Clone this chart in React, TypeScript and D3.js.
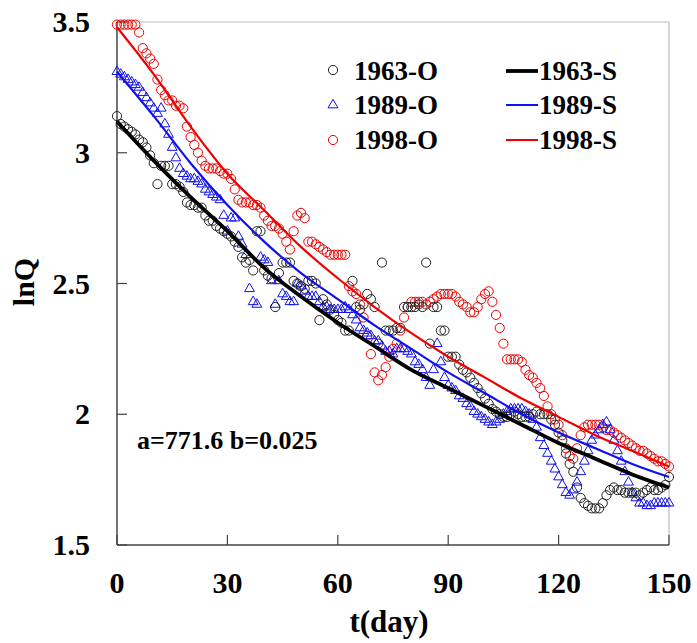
import React from 'react';
import { scaleLinear, line, curveMonotoneX, symbol, symbolTriangle } from 'd3';

const W = 697;
const H = 643;

// observed lnQ, one value per day, t = 0..150
const obs1963 = [
  3.14, 3.11, 3.10, 3.09, 3.08, 3.07, 3.05, 3.04, 3.02, 2.99,
  2.96, 2.88, 2.95, 2.95, 2.95, 2.88, 2.88, 2.87, 2.85, 2.81,
  2.80, 2.80, 2.79, 2.79, 2.76, 2.74, 2.74, 2.72, 2.71, 2.70,
  2.69, 2.68, 2.66, 2.64, 2.60, 2.58, 2.59, 2.55, 2.70, 2.70,
  2.55, 2.53, 2.52, 2.41, 2.54, 2.58, 2.58, 2.58, 2.51, 2.50,
  2.49, 2.48, 2.51, 2.51, 2.50, 2.36, 2.44, 2.42, 2.40, 2.38,
  2.36, 2.35, 2.32, 2.32, 2.51, 2.41, 2.40, 2.42, 2.46, 2.44,
  2.41, 2.27, 2.58, 2.32, 2.32, 2.32, 2.33, 2.33, 2.41, 2.41,
  2.41, 2.41, 2.42, 2.41, 2.58, 2.27, 2.41, 2.41, 2.32, 2.32,
  2.22, 2.22, 2.22, 2.19, 2.17, 2.16, 2.14, 2.12, 2.10, 2.08,
  2.06, 2.04, 2.02, 2.01, 2.00, 1.99, 1.99, 2.00, 2.01, 2.00,
  1.99, 1.99, 1.99, 2.00, 2.01, 2.00, 2.00, 2.00, 1.98, 1.96,
  1.93, 1.90, 1.85, 1.81, 1.78, 1.72, 1.68, 1.66, 1.65, 1.64,
  1.64, 1.64, 1.66, 1.69, 1.71, 1.72, 1.71, 1.71, 1.70, 1.70,
  1.70, 1.70, 1.69, 1.70, 1.71, 1.72, 1.71, 1.71, 1.72, 1.73,
  1.76,
];

const obs1989 = [
  3.31, 3.30, 3.29, 3.28, 3.27, 3.26, 3.25, 3.23, 3.21, 3.19,
  3.17, 3.15, 3.17, 3.11, 3.07, 3.02, 2.98, 2.94, 2.92, 2.91,
  2.90, 2.90, 2.89, 2.88, 2.86, 2.85, 2.84, 2.83, 2.82, 2.76,
  2.70, 2.75, 2.75, 2.68, 2.65, 2.61, 2.48, 2.43, 2.42, 2.60,
  2.59, 2.58, 2.51, 2.42, 2.51, 2.46, 2.45, 2.43, 2.43, 2.50,
  2.49, 2.47, 2.45, 2.45, 2.45, 2.43, 2.41, 2.41, 2.40, 2.40,
  2.40, 2.40, 2.41, 2.40, 2.38, 2.36, 2.33, 2.32, 2.31, 2.30,
  2.28, 2.28, 2.26, 2.24, 2.24, 2.23, 2.25, 2.25, 2.25, 2.24,
  2.23, 2.20, 2.19, 2.17, 2.14, 2.11, 2.17, 2.27, 2.20, 2.14,
  2.11, 2.10, 2.09, 2.07, 2.06, 2.04, 2.03, 2.01, 2.00, 1.99,
  1.98, 1.97, 1.96, 1.97, 1.98, 2.00, 2.01, 2.02, 2.02, 2.02,
  2.02, 2.01, 2.00, 1.98, 1.95, 1.91, 1.88, 1.85, 1.82, 1.79,
  1.76, 1.73, 1.70, 1.69, 1.71, 1.74, 1.78, 1.82, 1.86, 1.90,
  1.92, 1.94, 1.96, 1.97, 1.94, 1.90, 1.86, 1.82, 1.78, 1.74,
  1.70, 1.68, 1.66, 1.66, 1.65, 1.65, 1.66, 1.66, 1.66, 1.66,
  1.66,
];

const obs1998 = [
  3.49, 3.49, 3.49, 3.49, 3.49, 3.49, 3.46, 3.40, 3.38, 3.36,
  3.34, 3.28, 3.24, 3.22, 3.20, 3.20, 3.18, 3.18, 3.17, 3.10,
  3.06, 3.03, 3.00, 2.97, 2.95, 2.94, 2.94, 2.94, 2.93, 2.92,
  2.92, 2.90, 2.86, 2.82, 2.81, 2.81, 2.81, 2.80, 2.80, 2.79,
  2.76, 2.74, 2.72, 2.72, 2.71, 2.69, 2.66, 2.63, 2.70, 2.76,
  2.77, 2.75, 2.66, 2.66, 2.65, 2.64, 2.63, 2.62, 2.61, 2.61,
  2.61, 2.61, 2.61, 2.49, 2.47, 2.46, 2.42, 2.37, 2.30, 2.23,
  2.16, 2.13, 2.15, 2.18, 2.22, 2.25, 2.27, 2.32, 2.37, 2.41,
  2.43, 2.43, 2.43, 2.43, 2.42, 2.43, 2.44, 2.45, 2.46, 2.46,
  2.46, 2.46, 2.45, 2.43, 2.42, 2.41, 2.39, 2.39, 2.41, 2.44,
  2.46, 2.47, 2.43, 2.38, 2.33, 2.27, 2.21, 2.21, 2.21, 2.21,
  2.20, 2.17, 2.15, 2.14, 2.12, 2.10, 2.07, 2.03, 2.00, 1.98,
  1.96, 1.92, 1.87, 1.84, 1.83, 1.87, 1.92, 1.95, 1.96, 1.96,
  1.96, 1.96, 1.95, 1.94, 1.94, 1.93, 1.92, 1.91, 1.90, 1.89,
  1.88, 1.87, 1.86, 1.86, 1.85, 1.84, 1.83, 1.82, 1.82, 1.81,
  1.80,
];

// simulated curves, every 10 days
const simDays = [0, 10, 20, 30, 40, 50, 60, 70, 80, 90, 100, 110, 120, 130, 140, 150];
const sim1963 = [3.12, 2.97, 2.83, 2.70, 2.56, 2.45, 2.35, 2.26, 2.17, 2.10, 2.03, 1.96, 1.89, 1.83, 1.77, 1.72];
const sim1989 = [3.31, 3.14, 2.96, 2.80, 2.66, 2.54, 2.44, 2.34, 2.25, 2.16, 2.08, 2.00, 1.93, 1.87, 1.81, 1.76];
const sim1998 = [3.48, 3.30, 3.10, 2.92, 2.78, 2.64, 2.52, 2.41, 2.31, 2.22, 2.14, 2.06, 1.99, 1.92, 1.86, 1.80];

const xTicks = [0, 30, 60, 90, 120, 150];
const yTicks = [1.5, 2, 2.5, 3, 3.5];

const BLACK = '#222';
const BLUE = '#1010f0';
const RED = '#f00000';
const font = '"Liberation Serif", "Times New Roman", serif';

export default function App() {
  const x = scaleLinear().domain([0, 150]).range([117, 669]);
  const y = scaleLinear().domain([1.5, 3.5]).range([545, 22]);

  const simLine = line<number>()
    .x((d, i) => x(simDays[i]))
    .y(d => y(d))
    .curve(curveMonotoneX);

  const tri = symbol().type(symbolTriangle).size(42)();

  return (
    <svg width={W} height={H} style={{ position: 'absolute', left: 0, top: 0, background: '#fff' }}
      fontFamily={font} fontWeight="bold">
      {/* frame */}
      <line x1={117} y1={22} x2={669} y2={22} stroke="#bbb" strokeWidth={1.2} />
      <line x1={669} y1={22} x2={669} y2={545} stroke="#bbb" strokeWidth={1.2} />
      <line x1={117} y1={22} x2={117} y2={545} stroke="#444" strokeWidth={1.5} />
      <line x1={117} y1={545} x2={669} y2={545} stroke="#444" strokeWidth={1.5} />

      {yTicks.map(t => (
        <g key={'y' + t}>
          <line x1={117} x2={127} y1={y(t)} y2={y(t)} stroke="#444" strokeWidth={1.2} />
          <text x={90} y={y(t) + 10} textAnchor="end" fontSize={30}>{t}</text>
        </g>
      ))}
      {xTicks.map(t => (
        <g key={'x' + t}>
          <line x1={x(t)} x2={x(t)} y1={545} y2={535} stroke="#444" strokeWidth={1.2} />
          <text x={x(t)} y={593} textAnchor="middle" fontSize={30}>{t}</text>
        </g>
      ))}

      <text x={389} y={632} textAnchor="middle" fontSize={31}>t(day)</text>
      <text transform="translate(34,282) rotate(-90)" textAnchor="middle" fontSize={30}>lnQ</text>

      {/* observed */}
      {obs1998.map((v, i) => (
        <circle key={'r' + i} cx={x(i)} cy={y(v)} r={4.6} fill="none" stroke={RED} strokeWidth={1} />
      ))}
      {obs1989.map((v, i) => (
        <path key={'b' + i} d={tri} transform={`translate(${x(i)},${y(v)})`} fill="none" stroke={BLUE} strokeWidth={1} />
      ))}
      {obs1963.map((v, i) => (
        <circle key={'k' + i} cx={x(i)} cy={y(v)} r={4.6} fill="none" stroke={BLACK} strokeWidth={1} />
      ))}

      {/* simulated */}
      <path d={simLine(sim1998) || ''} fill="none" stroke={RED} strokeWidth={2.2} />
      <path d={simLine(sim1989) || ''} fill="none" stroke={BLUE} strokeWidth={2.2} />
      <path d={simLine(sim1963) || ''} fill="none" stroke="#000" strokeWidth={3.8} />

      {/* legend */}
      <g fontSize={27}>
        <circle cx={333} cy={70} r={4.6} fill="none" stroke={BLACK} strokeWidth={1} />
        <path d={tri} transform="translate(333,105)" fill="none" stroke={BLUE} strokeWidth={1} />
        <circle cx={333} cy={140} r={4.6} fill="none" stroke={RED} strokeWidth={1} />
        <text x={354} y={80}>1963-O</text>
        <text x={354} y={114}>1989-O</text>
        <text x={354} y={149}>1998-O</text>
        <line x1={506} x2={538} y1={71} y2={71} stroke="#000" strokeWidth={3.8} />
        <line x1={506} x2={538} y1={105} y2={105} stroke={BLUE} strokeWidth={2} />
        <line x1={506} x2={538} y1={140} y2={140} stroke={RED} strokeWidth={2} />
        <text x={539} y={80}>1963-S</text>
        <text x={539} y={114}>1989-S</text>
        <text x={539} y={149}>1998-S</text>
      </g>

      <text x={137} y={449} fontSize={26}>a=771.6 b=0.025</text>
    </svg>
  );
}
